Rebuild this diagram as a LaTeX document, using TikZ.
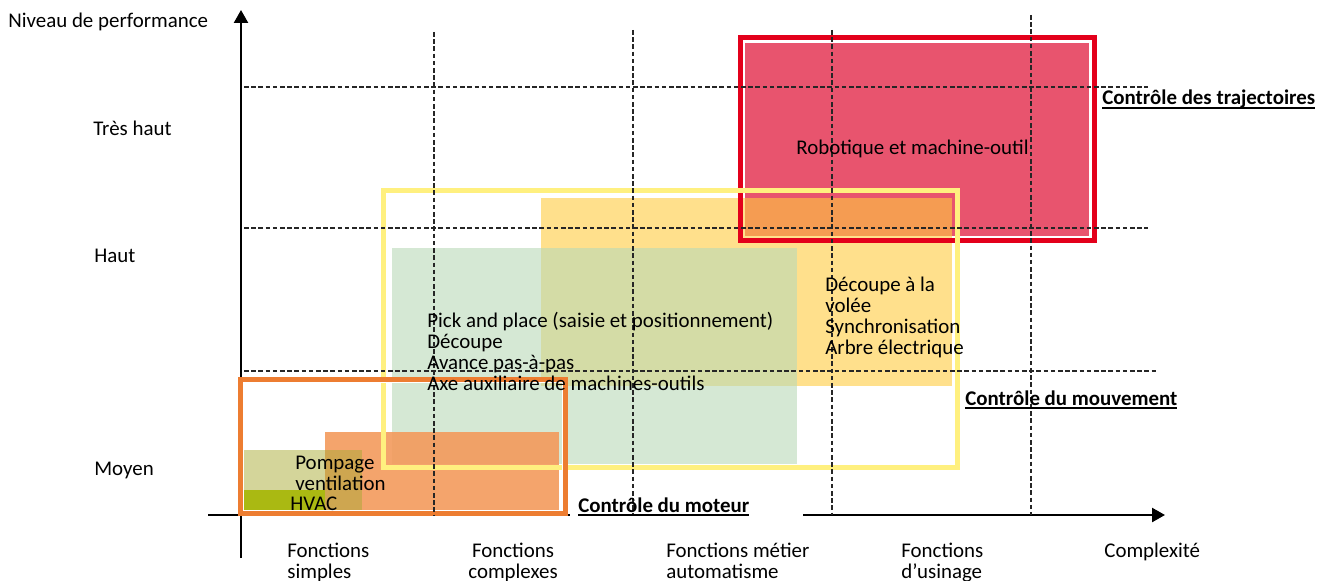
\documentclass[tikz,border=0pt]{standalone}
\usepackage{fontspec}
\setmainfont{Carlito}
\usetikzlibrary{arrows.meta}

% soulignement a profondeur fixe
\newsavebox{\soulbox}
\newcommand{\souligne}[1]{\sbox{\soulbox}{#1}\rlap{\usebox{\soulbox}}\rule[-2pt]{\wd\soulbox}{0.8pt}}

\definecolor{rougecadre}{HTML}{E3001B}
\definecolor{rougefond}{HTML}{E8546E}
\definecolor{jaunecadre}{HTML}{FFF07F}
\definecolor{jaunefond}{HTML}{FFCC40}
\definecolor{vertfond}{HTML}{B9D9B7}
\definecolor{orangecadre}{HTML}{ED7D31}
\definecolor{orangefond}{HTML}{F39A5C}
\definecolor{olivefond}{HTML}{A9AB35}
\definecolor{vertfonce}{HTML}{AAB912}

\begin{document}
\begin{tikzpicture}[x=0.02cm, y=-0.02cm,
  label node/.style={font=\fontsize{11.9}{11.9}\selectfont, inner sep=0pt, anchor=base west, align=left},
  titre node/.style={label node, font=\fontsize{11.9}{11.9}\selectfont\bfseries},
  grille/.style={dash pattern=on 2.6pt off 1.5pt, line width=0.6pt, black!85},
  axe/.style={line width=1.4pt},
  cadre/.style={line width=0.1cm}]
  \useasboundingbox (0,0) rectangle (1322,581);

  % zones remplies
  \fill[rougefond] (745,43) rectangle (1089,236);
  \draw[white, line width=0.04cm] (743,41) rectangle (1091,238);
  \fill[jaunefond, opacity=0.6] (541,198) rectangle (952,386);
  \fill[vertfond, opacity=0.6] (392,248) rectangle (797,464);
  \fill[orangefond, opacity=0.9] (325,432) rectangle (559,515);
  \fill[olivefond, opacity=0.5] (242,450) rectangle (362,513);
  \fill[vertfonce] (242,490) rectangle (325,513);

  % axes
  \coordinate (y0) at (241,558);
  \coordinate (y1) at (241,10);
  \coordinate (x0) at (208,515);
  \coordinate (x1) at (570,515);
  \coordinate (x2) at (803,515);
  \coordinate (x3) at (1165,515);
  \draw[axe, -{Triangle[length=0.26cm,width=0.28cm]}] (y0) -- (y1);
  \draw[axe] (x0) -- (x1);
  \draw[axe, -{Triangle[length=0.26cm,width=0.28cm]}] (x2) -- (x3);

  % cadres
  \draw[rougecadre, cadre] (740.5,37.5) rectangle (1094.5,240.5);
  \draw[jaunecadre, cadre] (383.5,190.5) rectangle (957.5,467.5);
  \draw[orangecadre, cadre] (240.5,379.5) rectangle (565.5,513.5);
  \draw[white, line width=0.02cm] (243.5,382.5) rectangle (562.5,510.5);

  % grille
  \foreach \y/\xe in {87/1148, 228/1148, 371/1158}
    \draw[grille] (244,\y) -- (\xe,\y);
  \foreach \x/\ys in {434/32, 633/30, 832/30, 1031/15}
    \draw[grille] (\x,\ys) -- (\x,515);

  % textes (base = derniere ligne pour les noeuds multi-lignes)
  \node[label node] (niveau) at (8,28) {Niveau de performance};
  \node[label node] (treshaut) at (93,135) {Très haut};
  \node[label node] (haut) at (94,262) {Haut};
  \node[label node] (moyen) at (94,475) {Moyen};
  \node[label node] (robot) at (796,154) {Robotique et machine-outil};
  \node[titre node] (trajectoires) at (1102,105) {\souligne{Contrôle des trajectoires}};
  \node[titre node] (mouvement) at (965,405) {\souligne{Contrôle du mouvement}};
  \node[titre node] (moteur) at (578,512) {\souligne{Contrôle du moteur}};
  \node[label node] (pick) at (427,390) {Pick and place (saisie et positionnement)\\Découpe\\Avance pas-à-pas\\Axe auxiliaire de machines-outils};
  \node[label node] (volee) at (825,354) {Découpe à la\\volée\\Synchronisation\\Arbre électrique};
  \node[label node] (pompage) at (295,490) {Pompage\\ventilation};
  \node[label node] (hvac) at (290,510) {HVAC};
  \node[label node] (simples) at (287,578) {Fonctions\\simples};
  \node[label node, align=center, anchor=base] (complexes) at (513,578) {Fonctions\\complexes};
  \node[label node] (metier) at (666,578) {Fonctions métier\\automatisme};
  \node[label node] (usinage) at (901,578) {Fonctions\\d’usinage};
  \node[label node] (complexite) at (1104,557) {Complexité};
\end{tikzpicture}
\end{document}
